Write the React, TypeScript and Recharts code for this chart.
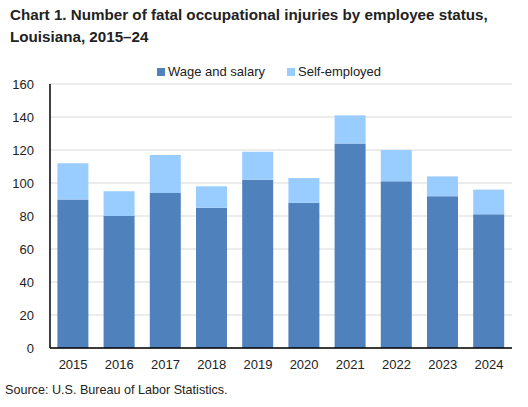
import React from "react";
import { BarChart, Bar, XAxis, YAxis, CartesianGrid } from "recharts";

const years = ["2015", "2016", "2017", "2018", "2019", "2020", "2021", "2022", "2023", "2024"];
const wageAndSalary = [90, 80, 94, 85, 102, 88, 124, 101, 92, 81];
const selfEmployed = [22, 15, 23, 13, 17, 15, 17, 19, 12, 15];
const yTicks = [0, 20, 40, 60, 80, 100, 120, 140, 160];

const WAGE_COLOR = "#4F81BD";
const SELF_COLOR = "#99CCFF";
const FONT = "'Liberation Sans', Arial, sans-serif";

const legendItems = [
  { label: "Wage and salary", color: WAGE_COLOR },
  { label: "Self-employed", color: SELF_COLOR },
];

const data = years.map((year, i) => ({
  year,
  wage: wageAndSalary[i],
  self: selfEmployed[i],
}));

export default function App() {
  return (
    <div
      style={{
        position: "absolute",
        left: 0,
        top: 0,
        width: 528,
        height: 407,
        background: "#fff",
        fontFamily: FONT,
        overflow: "hidden",
      }}
    >
      <div
        style={{
          position: "absolute",
          left: 10,
          top: 4,
          fontSize: 15.2,
          fontWeight: "bold",
          lineHeight: "22px",
          color: "#222",
          whiteSpace: "nowrap",
        }}
      >
        Chart 1. Number of fatal occupational injuries by employee status,
        <br />
        Louisiana, 2015–24
      </div>

      {/* legend */}
      <div
        style={{
          position: "absolute",
          left: 0,
          top: 64,
          width: 528,
          display: "flex",
          justifyContent: "center",
          gap: 22,
          fontSize: 13,
          color: "#222",
          paddingLeft: 10,
          boxSizing: "border-box",
        }}
      >
        {legendItems.map((item) => (
          <div key={item.label} style={{ display: "flex", alignItems: "center" }}>
            <span
              style={{
                width: 8,
                height: 8,
                background: item.color,
                display: "inline-block",
                marginRight: 3,
              }}
            />
            {item.label}
          </div>
        ))}
      </div>

      <div style={{ position: "absolute", left: 0, top: 0 }}>
        <BarChart
          width={528}
          height={407}
          data={data}
          margin={{ top: 84, right: 16, bottom: 29, left: 0 }}
          barCategoryGap="16%"
        >
          <CartesianGrid vertical={false} stroke="#d9d9d9" />
          <XAxis
            dataKey="year"
            height={30}
            tickLine={false}
            axisLine={{ stroke: "#000", strokeWidth: 1.5 }}
            tick={{ fontSize: 13, fill: "#222", fontFamily: FONT }}
            tickMargin={6}
          />
          <YAxis
            width={50}
            domain={[0, 160]}
            ticks={yTicks}
            tickLine={false}
            axisLine={{ stroke: "#000", strokeWidth: 1.5 }}
            tick={{ fontSize: 13, fill: "#222", fontFamily: FONT }}
            tickMargin={10}
          />
          <Bar
            dataKey="wage"
            name="Wage and salary"
            stackId="a"
            fill={WAGE_COLOR}
            isAnimationActive={false}
          />
          <Bar
            dataKey="self"
            name="Self-employed"
            stackId="a"
            fill={SELF_COLOR}
            isAnimationActive={false}
          />
        </BarChart>
      </div>

      <div
        style={{
          position: "absolute",
          left: 5,
          top: 383,
          fontSize: 12.6,
          color: "#222",
        }}
      >
        Source: U.S. Bureau of Labor Statistics.
      </div>
    </div>
  );
}
